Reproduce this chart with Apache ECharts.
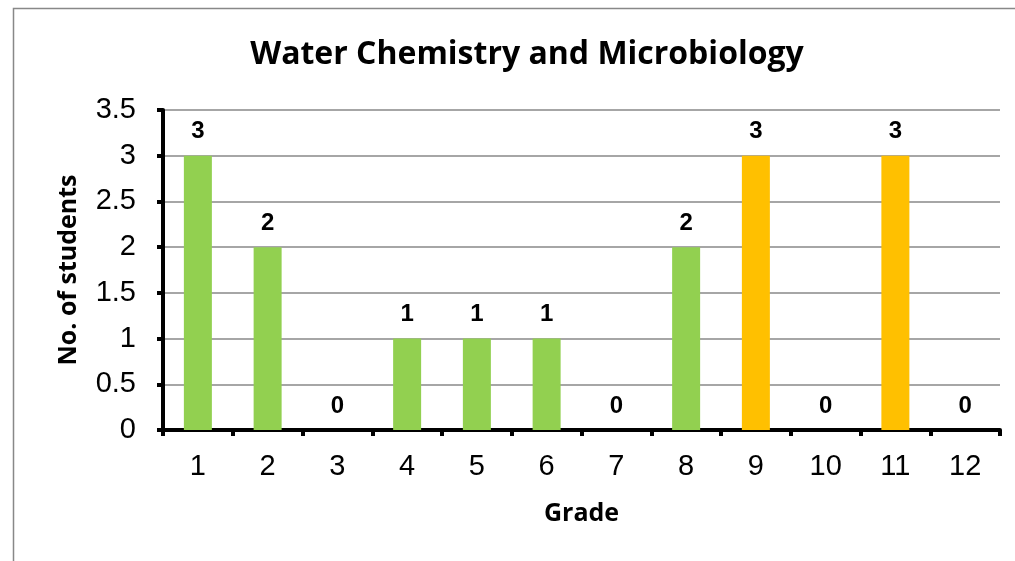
<!DOCTYPE html>
<html><head><meta charset="utf-8">
<script src="https://cdn.jsdelivr.net/npm/echarts@6/dist/echarts.min.js"></script>
<style>html,body{margin:0;padding:0;background:#fff}#c{width:1015px;height:561px}</style>
</head><body><div id="c"></div>
<script>
const categories = ['1','2','3','4','5','6','7','8','9','10','11','12'];
const students = [3,2,0,1,1,1,0,2,3,0,3,0];
const barColors = ['#92D050','#92D050','#92D050','#92D050','#92D050','#92D050','#92D050','#92D050','#FFC000','#92D050','#FFC000','#92D050'];
const chart = echarts.init(document.getElementById('c'));
chart.setOption({
  animation:false,
  graphic:[{type:'rect',shape:{x:13.5,y:8.5,width:1100,height:700},style:{fill:'none',stroke:'#888',lineWidth:1.5},silent:true}],
  title:{text:'Water Chemistry and Microbiology',left:522,top:34,textAlign:'center',
    textStyle:{fontFamily:'Open Sans',fontWeight:'bold',fontSize:32,color:'#000'}},
  grid:{left:163,right:15,top:110,bottom:131,containLabel:false},
  xAxis:{type:'category',data:categories,name:'Grade',nameLocation:'middle',nameGap:71,
    nameTextStyle:{fontFamily:'Open Sans',fontWeight:'bold',fontSize:25,color:'#000'},
    axisLine:{lineStyle:{color:'#000',width:4}},
    axisTick:{show:true,length:6,lineStyle:{color:'#000',width:4}},
    axisLabel:{fontFamily:'Liberation Sans',fontSize:29,color:'#000',margin:22}},
  yAxis:{type:'value',min:0,max:3.5,interval:0.5,name:'No. of students',nameLocation:'middle',nameGap:82,
    nameTextStyle:{fontFamily:'Open Sans',fontWeight:'bold',fontSize:25,color:'#000'},
    axisLine:{show:true,lineStyle:{color:'#000',width:4}},
    axisTick:{show:true,length:6,lineStyle:{color:'#000',width:4}},
    axisLabel:{fontFamily:'Liberation Sans',fontSize:29,color:'#000',margin:27},
    splitLine:{lineStyle:{color:'#888',width:1.5}}},
  series:[{type:'bar',data:students.map((v,i)=>({value:v,itemStyle:{color:barColors[i]}})),
    barWidth:28,
    label:{show:true,position:'top',distance:12,fontFamily:'Liberation Sans',fontWeight:'bold',fontSize:24,color:'#000'}}]
});
</script></body></html>
